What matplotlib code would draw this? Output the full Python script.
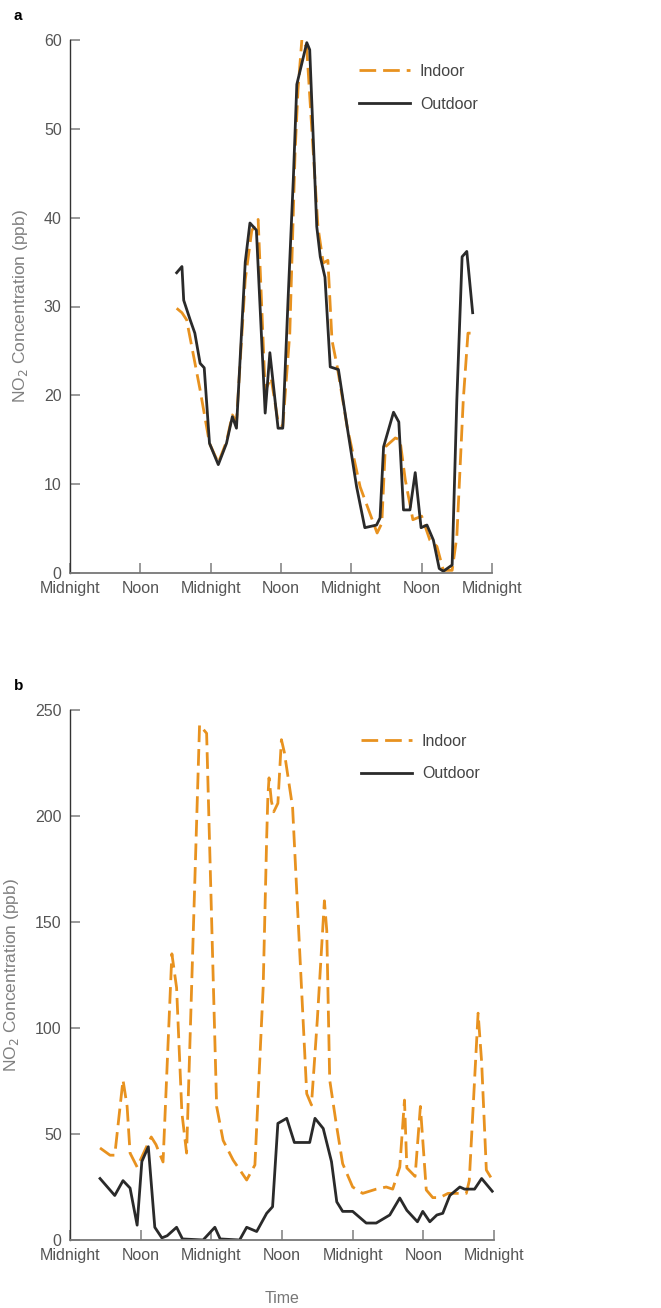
import matplotlib.pyplot as plt
import numpy as np

# panel a: NO2 (ppb), time in hours from first midnight
a_out_h = [18.2, 19.1, 19.4, 20.5, 21.3, 22.2, 22.9, 23.8, 25.3, 26.7, 27.7, 28.4, 29.9, 30.7, 31.8,
           33.3, 34.1, 35.5, 36.3, 37.2, 38.1, 38.7, 40.4, 40.9, 42.1, 42.7, 43.5, 44.4, 45.8, 47.3,
           48.9, 50.3, 52.3, 52.9, 53.5, 55.2, 56.1, 56.9, 58.0, 58.9, 59.9, 60.9, 62.0, 63.0, 63.7,
           65.2, 66.0, 66.9, 67.7, 68.7]
a_out_v = [33.8, 34.5, 30.7, 28.5, 27.0, 23.6, 23.1, 14.6, 12.2, 14.6, 17.6, 16.3, 35.0, 39.4, 38.6,
           18.0, 24.8, 16.3, 16.3, 30.7, 44.3, 55.0, 59.7, 58.9, 39.0, 35.6, 33.3, 23.2, 22.9, 16.4,
           9.7, 5.1, 5.4, 6.2, 14.2, 18.1, 17.0, 7.1, 7.1, 11.3, 5.1, 5.4, 3.7, 0.5, 0.2,
           0.9, 19.5, 35.6, 36.2, 29.3]

a_in_h = [18.2, 19.1, 19.9, 22.2, 23.8, 25.3, 26.7, 27.7, 28.4, 29.9, 31.0, 32.1, 33.3, 34.3, 35.5,
          36.3, 37.5, 38.4, 38.9, 39.6, 40.4, 42.3, 43.2, 44.0, 44.7, 45.6, 47.3, 49.5, 52.4, 53.2,
          53.8, 55.5, 56.3, 57.2, 58.5, 60.0, 61.4, 62.6, 63.7, 65.2, 66.0, 67.1, 67.9, 68.7]
a_in_v = [29.8, 29.3, 28.5, 20.6, 14.6, 12.4, 14.8, 17.8, 17.0, 33.0, 38.5, 39.8, 20.5, 22.0, 17.0,
          16.5, 27.0, 47.3, 54.4, 60.4, 59.0, 39.0, 34.9, 35.2, 26.2, 23.2, 16.4, 9.7, 4.5, 5.6,
          14.2, 15.2, 15.0, 10.5, 6.0, 6.4, 3.7, 3.0, 0.3, 0.3, 4.1, 19.5, 27.0, 27.0]

# panel b
b_in_h = [5.1, 6.8, 7.6, 9.0, 9.7, 10.2, 11.4, 13.0, 13.8, 14.6, 15.8, 17.3, 18.1, 19.0, 19.8,
          22.0, 23.2, 24.9, 26.0, 27.7, 30.0, 31.4, 32.8, 33.4, 33.6, 33.8, 34.2, 34.6, 35.3, 35.9,
          36.4, 37.8, 40.2, 41.0, 42.0, 43.2, 43.6, 44.1, 45.2, 46.3, 48.0, 49.7, 52.0, 53.7, 54.8,
          56.0, 56.8, 57.2, 58.6, 59.5, 60.5, 61.6, 62.8, 64.2, 67.3, 67.8, 69.3, 69.9, 70.7, 71.8]
b_in_v = [43.4, 40.0, 40.0, 75.5, 63.0, 41.0, 34.4, 44.0, 48.6, 45.0, 36.8, 135.0, 119.0, 60.0, 41.0,
          243.0, 239.0, 63.0, 47.0, 37.7, 28.3, 35.4, 119.0, 190.0, 209.0, 218.0, 207.0, 202.0, 206.0, 236.0,
          230.0, 204.0, 69.0, 63.7, 104.0, 160.0, 146.0, 75.5, 55.0, 36.0, 25.0, 22.0, 24.0, 25.0, 24.0,
          34.4, 66.0, 34.0, 30.0, 63.0, 23.6, 20.0, 20.0, 22.0, 22.0, 28.0, 107.0, 84.0, 33.0, 28.0]

b_out_h = [5.1, 7.6, 9.0, 10.2, 11.4, 12.2, 13.3, 14.4, 15.6, 16.5, 18.1, 19.1, 22.6, 24.6, 25.5,
           28.8, 30.0, 31.7, 33.4, 34.4, 35.3, 36.8, 38.1, 40.7, 41.6, 43.0, 44.4, 45.3, 46.3, 48.0,
           50.3, 52.0, 54.3, 56.0, 57.2, 59.0, 59.9, 61.1, 62.3, 63.3, 64.5, 66.2, 67.0, 68.7, 69.9, 71.7]
b_out_v = [29.0, 21.0, 28.0, 24.5, 7.0, 37.0, 44.0, 6.0, 1.0, 2.0, 6.0, 0.5, 0.0, 6.0, 0.5,
           0.0, 6.0, 4.0, 12.6, 15.7, 55.0, 57.4, 46.0, 46.0, 57.4, 52.6, 37.0, 18.0, 13.5, 13.5,
           8.0, 8.0, 11.8, 19.8, 14.0, 8.6, 13.5, 8.6, 11.8, 12.6, 21.0, 25.0, 24.0, 24.0, 29.0, 23.0]

tick_hours = [0, 12, 24, 36, 48, 60, 72]
tick_names = ['Midnight', 'Noon', 'Midnight', 'Noon', 'Midnight', 'Noon', 'Midnight']

ORANGE = '#e8921f'
DARK = '#2a2a2a'
GREY = '#555555'

plt.rcParams['font.family'] = ['Liberation Sans', 'DejaVu Sans']

fig = plt.figure(figsize=(6.61, 13.08), dpi=100)
ax1 = fig.add_axes([70/661, 1 - 573/1308, 422/661, 533/1308])
ax2 = fig.add_axes([70/661, 1 - 1240/1308, 424/661, 530/1308])


def style(ax, ymax, ystep):
    ax.set_xlim(0, 72)
    ax.set_ylim(0, ymax)
    ax.set_xticks(tick_hours)
    ax.set_xticklabels(tick_names)
    ax.set_yticks(np.arange(0, ymax + 1, ystep))
    for s in ['top', 'right']:
        ax.spines[s].set_visible(False)
    ax.spines['left'].set_color('#333333')
    ax.spines['bottom'].set_color('#777777')
    ax.spines['left'].set_linewidth(1.0)
    ax.spines['bottom'].set_linewidth(1.3)
    ax.tick_params(direction='in', length=7, width=1.2, colors='#888888',
                   labelcolor=GREY, labelsize=11.5, pad=6)
    ax.set_ylabel('NO$_2$ Concentration (ppb)', color='#808080', fontsize=12.5, labelpad=10)
    ax.legend(loc='upper right', bbox_to_anchor=(1.0, 0.982), frameon=False, fontsize=11.5,
              handlelength=3.2, labelspacing=1.1, handletextpad=0.6, labelcolor='#444444')


ax1.plot(a_in_h, a_in_v, color=ORANGE, lw=2, dashes=(6, 2.5), label='Indoor')
ax1.plot(a_out_h, a_out_v, color=DARK, lw=2, label='Outdoor')
style(ax1, 60, 10)

ax2.plot(b_in_h, b_in_v, color=ORANGE, lw=2, dashes=(6, 2.5), label='Indoor')
ax2.plot(b_out_h, b_out_v, color=DARK, lw=2, label='Outdoor')
style(ax2, 250, 50)
ax2.set_xlabel('Time', color='#777777', fontsize=11.5, labelpad=20)

fig.text(14/661, 1 - 16/1308, 'a', fontweight='bold', fontsize=11, va='center')
fig.text(14/661, 1 - 686/1308, 'b', fontweight='bold', fontsize=11, va='center')

fig.savefig('out.png', dpi=100, facecolor='white')
